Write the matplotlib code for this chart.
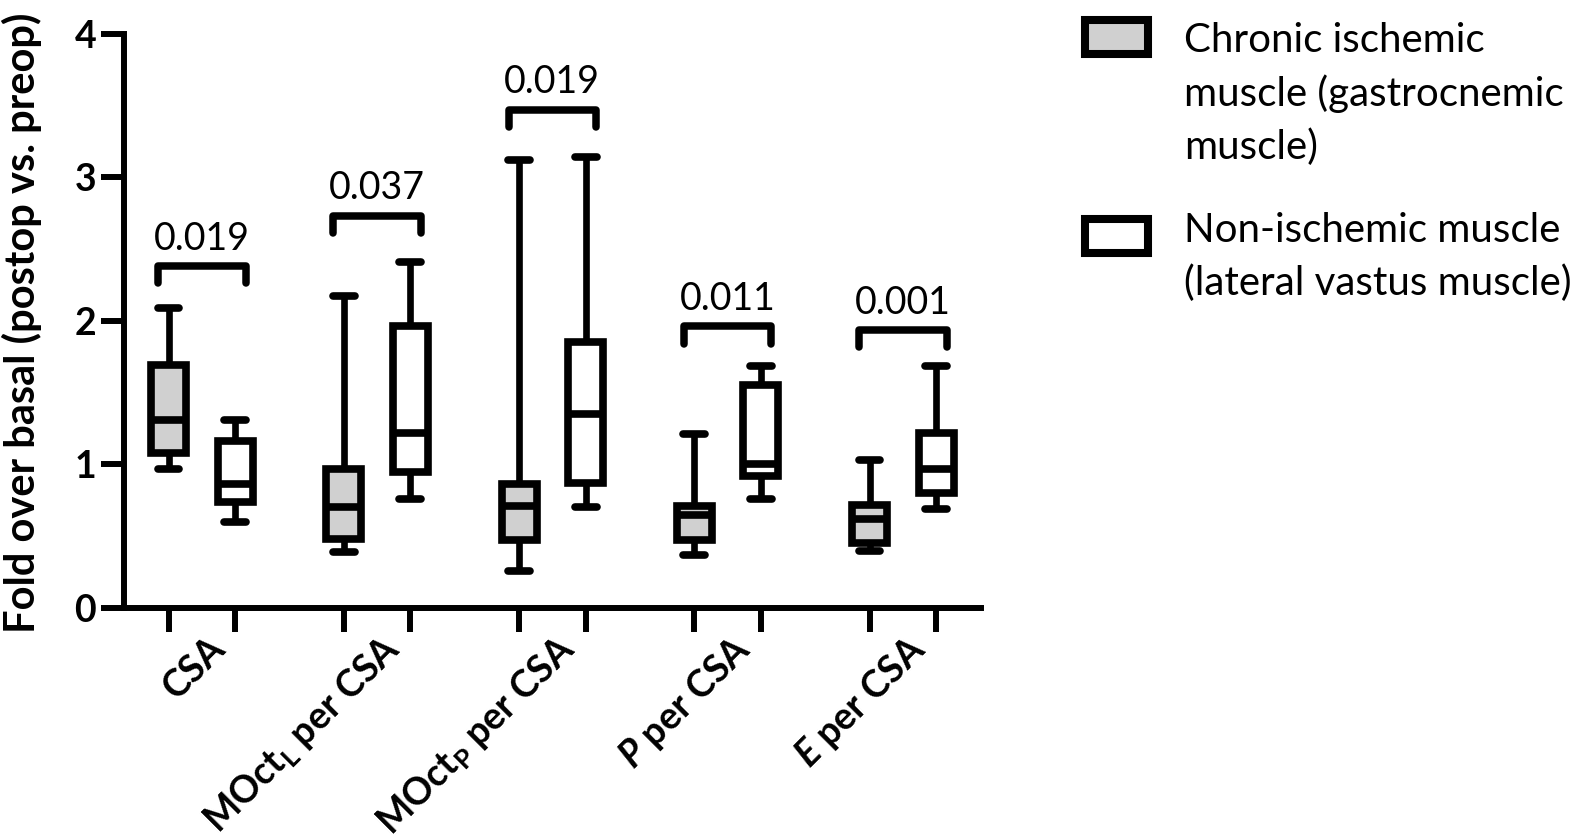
import matplotlib
matplotlib.use("Agg")
import matplotlib.pyplot as plt
import matplotlib.transforms as mtransforms
from matplotlib.patches import Rectangle

plt.rcParams["font.family"] = ["Lato", "DejaVu Sans"]
plt.rcParams["mathtext.fontset"] = "custom"
plt.rcParams["mathtext.rm"] = "Lato"
plt.rcParams["mathtext.bf"] = "Lato:bold"
plt.rcParams["mathtext.it"] = "Lato:italic:bold"

# data
categories = ["CSA", r"MOct$_\mathbf{L}$ per CSA", r"MOct$_\mathbf{P}$ per CSA",
              r"$\mathit{P}$ per CSA", r"$\mathit{E}$ per CSA"]

isch_min = [0.97, 0.39, 0.26, 0.37, 0.395]
isch_q1 = [1.08, 0.48, 0.47, 0.475, 0.455]
isch_med = [1.31, 0.70, 0.71, 0.645, 0.62]
isch_q3 = [1.69, 0.97, 0.86, 0.71, 0.72]
isch_max = [2.09, 2.17, 3.12, 1.21, 1.03]

non_min = [0.60, 0.76, 0.70, 0.76, 0.69]
non_q1 = [0.74, 0.95, 0.87, 0.92, 0.80]
non_med = [0.86, 1.22, 1.35, 1.0, 0.97]
non_q3 = [1.16, 1.96, 1.85, 1.55, 1.22]
non_max = [1.31, 2.41, 3.14, 1.685, 1.685]

p_values = ["0.019", "0.037", "0.019", "0.011", "0.001"]
bracket_y = [2.38, 2.73, 3.47, 1.96, 1.935]

legend_labels = ["Chronic ischemic\nmuscle (gastrocnemic\nmuscle)",
                 "Non-ischemic muscle\n(lateral vastus muscle)"]

GRAY = "#d0d0d0"
OFFSET = 0.19


def make_stats(lo, q1, med, q3, hi):
    return [dict(whislo=a, q1=b, med=c, q3=d, whishi=e, fliers=[])
            for a, b, c, d, e in zip(lo, q1, med, q3, hi)]


def draw_boxes(ax, stats, positions, face):
    ax.bxp(stats, positions=positions, widths=0.2, capwidths=0.125,
           patch_artist=True, showfliers=False,
           boxprops=dict(facecolor=face, edgecolor="black", linewidth=5.5),
           whiskerprops=dict(color="black", linewidth=4.8, solid_capstyle="butt"),
           capprops=dict(color="black", linewidth=5.5, solid_capstyle="round"),
           medianprops=dict(color="black", linewidth=5.5, solid_capstyle="butt"))


fig = plt.figure(figsize=(15.94, 8.35), dpi=100)
ax = fig.add_axes([124 / 1594, 227 / 835, 857 / 1594, 574.5 / 835])

groups = list(range(len(categories)))
pos_isch = [g - OFFSET for g in groups]
pos_non = [g + OFFSET for g in groups]

draw_boxes(ax, make_stats(isch_min, isch_q1, isch_med, isch_q3, isch_max), pos_isch, GRAY)
draw_boxes(ax, make_stats(non_min, non_q1, non_med, non_q3, non_max), pos_non, "white")

# significance brackets
for g, y, p in zip(groups, bracket_y, p_values):
    x0, x1 = g - 0.25, g + 0.25
    ax.plot([x0, x0, x1, x1], [y - 0.12, y, y, y - 0.12], color="black", lw=5.4,
            solid_capstyle="round", solid_joinstyle="round", clip_on=False)
    ax.text(g, y + 0.115, p, ha="center", va="baseline", fontsize=27)

ax.set_xlim(-0.444, 4.446)
ax.set_ylim(0, 4)

for side in ["top", "right"]:
    ax.spines[side].set_visible(False)
for side in ["left", "bottom"]:
    ax.spines[side].set_linewidth(4.3)

ax.set_yticks([0, 1, 2, 3, 4])
ax.tick_params(axis="y", length=16.5, width=4.3, pad=3.6, labelsize=27)
for lab in ax.get_yticklabels():
    lab.set_fontweight("bold")

ticks = sorted(pos_isch + pos_non)
tick_labels = []
for c in categories:
    tick_labels += ["", c]
ax.set_xticks(ticks, tick_labels)
ax.tick_params(axis="x", length=17, width=4.3, pad=6, labelsize=27)
shift = mtransforms.ScaledTranslation(-0.16, -0.03, fig.dpi_scale_trans)
for lab in ax.get_xticklabels():
    lab.set_fontweight("bold")
    lab.set_rotation(45)
    lab.set_ha("right")
    lab.set_va("center")
    lab.set_rotation_mode("anchor")
    lab.set_transform(lab.get_transform() + shift)

ax.set_ylabel("Fold over basal (postop vs. preop)", fontsize=30, fontweight="bold")
ax.yaxis.set_label_coords((42 - 124) / 857, 0.496)

# legend drawn by hand to match the layout
legend_faces = [GRAY, "white"]
legend_box_tops = [20, 218.6]
legend_text_tops = [22, 212]
for face, top, ttop, text in zip(legend_faces, legend_box_tops, legend_text_tops, legend_labels):
    fig.add_artist(Rectangle((1085 / 1594, 1 - (top + 34) / 835), 63 / 1594, 34 / 835,
                             transform=fig.transFigure, facecolor=face,
                             edgecolor="black", linewidth=5.8))
    fig.text(1184 / 1594, 1 - ttop / 835, text, fontsize=29,
             ha="left", va="top", linespacing=1.5)

fig.savefig("out.png", dpi=100)
